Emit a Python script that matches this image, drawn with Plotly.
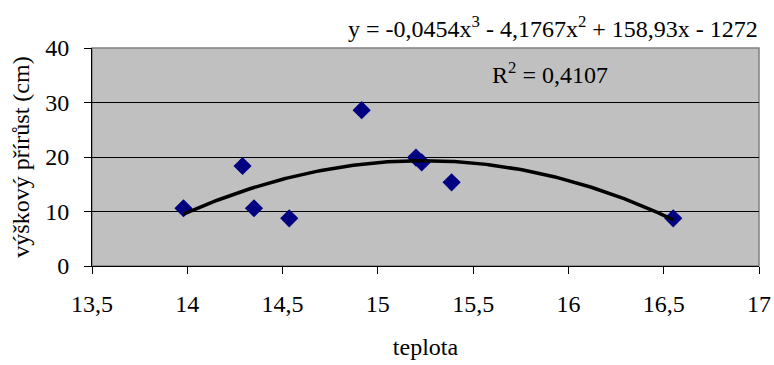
import numpy as np
import plotly.graph_objects as go

# Data
teplota = [13.98, 14.29, 14.35, 14.535, 14.915, 15.2, 15.23, 15.387, 16.55]
prirust = [10.6, 18.35, 10.6, 8.75, 28.6, 19.9, 19.0, 15.36, 8.75]

# Polynomial trendline coefficients shown on the chart (highest power first)
trend_coef = [-0.0454, -4.1767, 158.93, -1272]
equation_text = "y = -0,0454x<sup>3</sup> - 4,1767x<sup>2</sup> + 158,93x - 1272"
r2_text = "R<sup>2</sup> = 0,4107"

x_ticks = [13.5, 14, 14.5, 15, 15.5, 16, 16.5, 17]
x_ticklabels = ["13,5", "14", "14,5", "15", "15,5", "16", "16,5", "17"]
y_ticks = [0, 10, 20, 30, 40]

tx = np.linspace(min(teplota), max(teplota), 200)
ty = np.polyval(trend_coef, tx)

FONT = "Liberation Serif"

fig = go.Figure()
fig.add_trace(go.Scatter(
    x=teplota, y=prirust, mode="markers",
    marker=dict(symbol="diamond", size=14, color="#000080"),
    showlegend=False, cliponaxis=False,
))
fig.add_trace(go.Scatter(
    x=tx, y=ty, mode="lines",
    line=dict(color="black", width=3.5),
    showlegend=False,
))

fig.update_layout(
    width=774, height=365,
    margin=dict(l=92, r=15, t=48, b=99),
    paper_bgcolor="white",
    plot_bgcolor="#C0C0C0",
    font=dict(family=FONT, size=24, color="black"),
    xaxis=dict(
        range=[13.5, 17], tickvals=x_ticks, ticktext=x_ticklabels,
        automargin=False,
        showgrid=False, zeroline=False,
        showline=True, linecolor="black", linewidth=1,
        mirror=False, ticks="outside", ticklen=7, tickcolor="black",
        ticklabelstandoff=9,
        tickfont=dict(family=FONT, size=24),
        title=dict(text="teplota", standoff=22, font=dict(family=FONT, size=24)),
    ),
    yaxis=dict(
        range=[0, 40], tickvals=y_ticks,
        automargin=False,
        showgrid=True, gridcolor="black", gridwidth=1,
        zeroline=False,
        showline=True, linecolor="black", linewidth=1,
        ticks="outside", ticklen=7, tickcolor="black",
        ticklabelstandoff=10,
        tickfont=dict(family=FONT, size=24),
        title=dict(text="výškový přírůst (cm)", standoff=8, font=dict(family=FONT, size=24)),
    ),
    shapes=[dict(type="rect", xref="paper", yref="paper", x0=0, y0=0, x1=1, y1=1,
                 line=dict(color="#808080", width=1.5), layer="below")],
    annotations=[
        dict(text=equation_text, xref="paper", yref="paper",
             x=1.0015, y=1.096, xanchor="right", yanchor="middle",
             showarrow=False, font=dict(family=FONT, size=24)),
        dict(text=r2_text, xref="paper", yref="paper",
             x=0.687, y=0.885, xanchor="center", yanchor="middle",
             showarrow=False, font=dict(family=FONT, size=24)),
    ],
)

fig.write_html("out.html")
